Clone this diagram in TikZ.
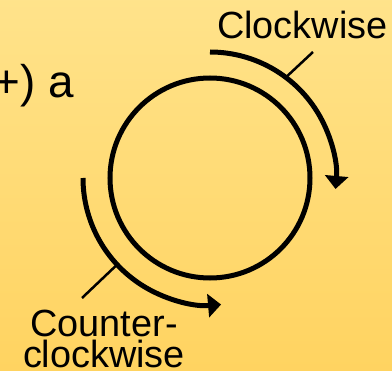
\documentclass[tikz,border=0pt]{standalone}
\usepackage{fontspec}
\setmainfont{Liberation Sans}
\usetikzlibrary{arrows.meta, calc}

\definecolor{paperlight}{HTML}{FFE796}
\definecolor{paperdark}{HTML}{FFCF55}

\tikzset{
    loop/.style={line width=5bp, black},
    turn/.style={line width=5bp, black, -{Triangle[width=23bp,length=13bp]}},
    leader/.style={line width=2.5bp, black},
    tag/.style={inner sep=0pt, font=\fontsize{38}{31}\selectfont, align=center}
}

\begin{document}
\begin{tikzpicture}[x=1bp, y=1bp]
    % Page and background
    \useasboundingbox (0,0) rectangle (392,371);
    \clip (0,0) rectangle (392,371);
    \shade[shading angle=-45, top color=paperlight, bottom color=paperdark]
        (-100,-100) rectangle (492,471);

    % Center of the circle
    \coordinate (O) at (210,193);

    % Circle
    \draw[loop] (O) circle (100);

    % Direction arrows
    \draw[turn] ($(O)+(90:126)$) arc[start angle=90, end angle=-5, radius=126];
    \draw[turn] ($(O)+(180:127)$) arc[start angle=180, end angle=275, radius=127];

    % Labels
    \node[tag, anchor=base west] (cw) at (217,333) {Clockwise};
    \node[tag, anchor=north] (ccw) at (104,61) {Counter-\\clockwise};
    \node[inner sep=0pt, anchor=base east, font=\fontsize{46}{50}\selectfont] (lead) at (74,274) {+) a};

    % Leader lines
    \coordinate (cwfoot) at ($(O)+(53:126)$);
    \coordinate (ccwfoot) at ($(O)+(223:127)$);
    \coordinate (cwtop) at (313,319);
    \coordinate (ccwtop) at (82,73);
    \draw[leader] (cwtop) -- (cwfoot);
    \draw[leader] (ccwtop) -- (ccwfoot);
\end{tikzpicture}
\end{document}
